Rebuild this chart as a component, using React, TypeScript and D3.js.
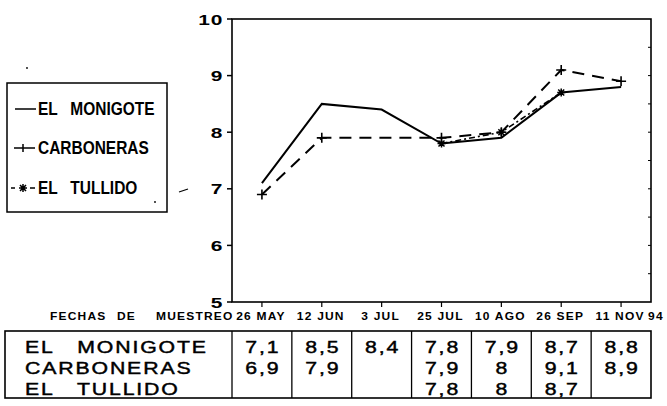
import React from "react";
import * as d3 from "d3";

const dates = ["26 MAY", "12 JUN", "3 JUL", "25 JUL", "10 AGO", "26 SEP", "11 NOV"];
const monigote: (number | null)[] = [7.1, 8.5, 8.4, 7.8, 7.9, 8.7, 8.8];
const carboneras: (number | null)[] = [6.9, 7.9, null, 7.9, 8, 9.1, 8.9];
const tullido: (number | null)[] = [null, null, null, 7.8, 8, 8.7, null];
const yTicks = [5, 6, 7, 8, 9, 10];
const seriesNames = ["EL   MONIGOTE", "CARBONERAS", "EL   TULLIDO"];
const axisTitle = ["FECHAS", "DE", "MUESTREO"];
const yearSuffix = "94";

const W = 667, H = 406;
const plot = { left: 232, right: 651, top: 19, bottom: 302 };

export default function App() {
  const x = d3.scalePoint<string>().domain(dates).range([plot.left, plot.right]).padding(0.5);
  const y = d3.scaleLinear().domain([5, 10]).range([plot.bottom, plot.top]);
  const step = x.step();

  const pts = (vals: (number | null)[]) =>
    vals.map((v, i) => ({ d: dates[i], v })).filter((p) => p.v !== null) as { d: string; v: number }[];

  const line = d3
    .line<{ d: string; v: number }>()
    .x((p) => x(p.d)!)
    .y((p) => y(p.v));

  const mon = pts(monigote);
  const car = pts(carboneras);
  const tul = pts(tullido);

  const plus = (cx: number, cy: number, s = 5) => `M${cx - s},${cy}H${cx + s}M${cx},${cy - s}V${cy + s}`;
  const star = (cx: number, cy: number, s = 4) =>
    `M${cx - s},${cy}H${cx + s}M${cx},${cy - s}V${cy + s}M${cx - s * 0.75},${cy - s * 0.75}L${cx + s * 0.75},${cy + s * 0.75}M${cx - s * 0.75},${cy + s * 0.75}L${cx + s * 0.75},${cy - s * 0.75}`;

  const fmt = (v: number | null) => (v === null ? "" : String(v).replace(".", ","));

  const tableTop = 331, tableBottom = 398, tableLeft = 5;
  const rowY = [347, 368, 389];
  const tableSeries = [monigote, carboneras, tullido];

  const legendY = [109, 148, 188];
  const fs = 18;
  const tfs = 17;
  const sx = 1.25;
  const font = "'Liberation Sans', Arial, sans-serif";

  return (
    <svg width={W} height={H} style={{ position: "absolute", left: 0, top: 0, background: "#fff" }}>
      {/* y axis ticks & labels */}
      {yTicks.map((t) => (
        <g key={t}>
          <line x1={plot.left - 5} x2={plot.left} y1={y(t)} y2={y(t)} stroke="#000" strokeWidth={1.5} />
          <g transform={`translate(${plot.left - 9},${y(t) + 5.5}) scale(1.35,1)`}>
            <text textAnchor="end" fontFamily={font} fontWeight="bold" fontSize={15.5} letterSpacing={0.5}>
              {t}
            </text>
          </g>
        </g>
      ))}
      {/* right axis minor ticks */}
      {d3.range(5.5, 10, 0.5).map((t) => (
        <line key={t} x1={plot.right - 3} x2={plot.right} y1={y(t)} y2={y(t)} stroke="#000" strokeWidth={1} />
      ))}
      {/* frame */}
      <rect
        x={plot.left}
        y={plot.top}
        width={plot.right - plot.left}
        height={plot.bottom - plot.top}
        fill="none"
        stroke="#000"
        strokeWidth={1.6}
      />
      {/* x ticks and labels */}
      {dates.map((d) => (
        <g key={d}>
          <line x1={x(d)!} x2={x(d)!} y1={plot.bottom} y2={plot.bottom + 5} stroke="#000" strokeWidth={1.2} />
          <g transform={`translate(${x(d)! - 1},319.5) scale(1.2,1)`}>
            <text textAnchor="middle" fontFamily={font} fontWeight="bold" fontSize={10} letterSpacing={1}>
              {d}
            </text>
          </g>
        </g>
      ))}
      <g transform={`translate(${x(dates[dates.length - 1])! + 27},319.5) scale(1.2,1)`}>
        <text fontFamily={font} fontWeight="bold" fontSize={10} letterSpacing={1}>
          {yearSuffix}
        </text>
      </g>
      {axisTitle.map((t, i) => (
        <g key={t} transform={`translate(${[50, 117, 156][i]},319.5) scale(1.2,1)`}>
          <text fontFamily={font} fontWeight="bold" fontSize={10} letterSpacing={1}>
            {t}
          </text>
        </g>
      ))}

      {/* series lines */}
      <path d={line(mon)!} fill="none" stroke="#000" strokeWidth={2} />
      <path d={line(car)!} fill="none" stroke="#000" strokeWidth={2} strokeDasharray="12,8" />
      <path d={line(tul)!} fill="none" stroke="#000" strokeWidth={1.6} strokeDasharray="6,3,2,3" />
      {car.map((p) => (
        <path key={"c" + p.d} d={plus(x(p.d)!, y(p.v))} stroke="#000" strokeWidth={1.6} fill="none" />
      ))}
      {tul.map((p) => (
        <path key={"t" + p.d} d={star(x(p.d)!, y(p.v))} stroke="#000" strokeWidth={1.5} fill="none" />
      ))}

      {/* legend */}
      <rect x={7} y={83} width={160} height={129} fill="none" stroke="#000" strokeWidth={1.5} />
      <line x1={15} x2={36} y1={legendY[0]} y2={legendY[0]} stroke="#000" strokeWidth={1.5} />
      <path d={`M14,${legendY[1]}H35` + plus(23, legendY[1], 4)} stroke="#000" strokeWidth={1.5} fill="none" />
      <path d={`M11,${legendY[2]}H15M30,${legendY[2]}H35` + star(23, legendY[2], 4)} stroke="#000" strokeWidth={1.5} fill="none" />
      {seriesNames.map((n, i) => (
        <g key={n} transform={`translate(38,${legendY[i] + 0.36 * fs}) scale(0.86,1)`}>
          <text fontFamily={font} fontWeight="bold" fontSize={fs} style={{ whiteSpace: "pre" }}>
            {n}
          </text>
        </g>
      ))}
      {/* scan marks */}
      <line x1={179} x2={188} y1={192} y2={189} stroke="#000" strokeWidth={1.3} />
      <circle cx={27} cy={68} r={0.9} fill="#000" />
      <circle cx={155} cy={202} r={0.9} fill="#000" />

      {/* table */}
      <rect
        x={tableLeft}
        y={tableTop}
        width={plot.right - tableLeft}
        height={tableBottom - tableTop}
        fill="none"
        stroke="#000"
        strokeWidth={1.6}
      />
      {dates.map((d) => (
        <line
          key={"v" + d}
          x1={x(d)! - step / 2}
          x2={x(d)! - step / 2}
          y1={tableTop}
          y2={tableBottom}
          stroke="#000"
          strokeWidth={1.3}
        />
      ))}
      {seriesNames.map((n, i) => (
        <g key={"tl" + n} transform={`translate(25,${rowY[i] + 0.36 * tfs}) scale(${sx},1)`}>
          <text
            fontFamily={font}
            fontSize={tfs}
            letterSpacing={1.5}
            stroke="#000"
            strokeWidth={0.45}
            style={{ whiteSpace: "pre" }}
          >
            {n}
          </text>
        </g>
      ))}
      {tableSeries.map((vals, i) =>
        vals.map((v, j) =>
          v === null ? null : (
            <g key={`tv${i}-${j}`} transform={`translate(${x(dates[j])! + 1},${rowY[i] + 0.36 * tfs}) scale(${sx},1)`}>
              <text
                textAnchor="middle"
                fontFamily={font}
                fontSize={tfs}
                letterSpacing={1.5}
                stroke="#000"
                strokeWidth={0.45}
              >
                {fmt(v)}
              </text>
            </g>
          )
        )
      )}
    </svg>
  );
}
